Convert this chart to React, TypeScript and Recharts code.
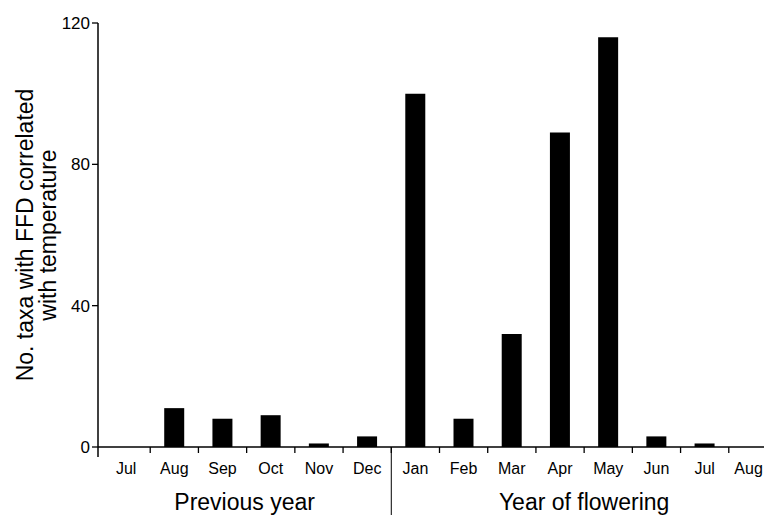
import React from "react";
import { BarChart, Bar, XAxis, YAxis } from "recharts";

const MONTHS = ["Jul", "Aug", "Sep", "Oct", "Nov", "Dec", "Jan", "Feb", "Mar", "Apr", "May", "Jun", "Jul", "Aug"];
const TAXA = [0, 11, 8, 9, 1, 3, 100, 8, 32, 89, 116, 3, 1, 0];
const Y_TICKS = [0, 40, 80, 120];
const GROUPS = ["Previous year", "Year of flowering"];
const PREV_COUNT = 6;
const Y_LABEL_LINES = ["No. taxa with FFD correlated", "with temperature"];

const data = MONTHS.map((m, i) => ({ key: `${m}-${i}`, month: m, value: TAXA[i] }));

const FONT = "'Liberation Sans', Arial, Helvetica, sans-serif";
const VIEW_W = 764;
const CHART_W = 777;
const CHART_H = 515;
const Y_AXIS_W = 98;
const PAD_LEFT = 4;
const X_AXIS_H = 68;
const TOP = 23;
const BAND = (CHART_W - Y_AXIS_W - PAD_LEFT) / MONTHS.length;
const TICK_FONT = 16;

const XTick = (props: any) => {
  const { x, y, index } = props;
  const half = BAND / 2;
  const right = x + half;
  const left = x - half;
  const els: React.ReactNode[] = [];
  els.push(<line key="t" x1={right} x2={right} y1={y} y2={y + 6} stroke="#000" strokeWidth={1.3} />);
  const approxHalfWidth = (MONTHS[index].length * TICK_FONT * 0.6) / 2;
  const lx = Math.min(x, VIEW_W - 1 - approxHalfWidth);
  els.push(
    <text key="l" x={lx} y={y + 27} textAnchor="middle" fontFamily={FONT} fontSize={TICK_FONT} fill="#000">
      {MONTHS[index]}
    </text>
  );
  if (index === 0) {
    const start = left - PAD_LEFT;
    const divider = left + PREV_COUNT * BAND;
    els.push(<line key="ya" x1={start} x2={start} y1={y} y2={y + 10} stroke="#000" strokeWidth={1.5} />);
    els.push(
      <text key="g0" x={(start + divider) / 2} y={y + 63} textAnchor="middle" fontFamily={FONT} fontSize={23} fill="#000">
        {GROUPS[0]}
      </text>
    );
  }
  if (index === PREV_COUNT) {
    const endX = left + (MONTHS.length - PREV_COUNT) * BAND;
    els.push(<line key="dv" x1={left} x2={left} y1={y} y2={y + 68} stroke="#000" strokeWidth={1} />);
    els.push(
      <text key="g1" x={(left + endX) / 2} y={y + 63} textAnchor="middle" fontFamily={FONT} fontSize={23} fill="#000">
        {GROUPS[1]}
      </text>
    );
  }
  return <g>{els}</g>;
};

const YLabel = (props: any) => {
  const vb = props.viewBox || { x: 0, y: TOP, width: Y_AXIS_W, height: 424 };
  const cy = vb.y + vb.height / 2;
  const xs = [33, 56];
  return (
    <g>
      {Y_LABEL_LINES.map((t, i) => (
        <text
          key={i}
          x={xs[i]}
          y={cy}
          transform={`rotate(-90, ${xs[i]}, ${cy})`}
          textAnchor="middle"
          fontFamily={FONT}
          fontSize={23}
          fill="#000"
        >
          {t}
        </text>
      ))}
    </g>
  );
};

export default function App() {
  return (
    <div style={{ position: "absolute", left: 0, top: 0, width: VIEW_W, height: 515, overflow: "hidden", background: "#fff" }}>
      <BarChart
        width={CHART_W}
        height={CHART_H}
        data={data}
        margin={{ top: TOP, right: 0, bottom: 0, left: 0 }}
        barSize={20}
      >
        <XAxis
          dataKey="key"
          height={X_AXIS_H}
          padding={{ left: PAD_LEFT, right: 0 }}
          axisLine={{ stroke: "#000", strokeWidth: 1.5 }}
          tickLine={false}
          tickSize={0}
          tickMargin={0}
          interval={0}
          tick={<XTick />}
        />
        <YAxis
          width={Y_AXIS_W}
          domain={[0, 120]}
          ticks={Y_TICKS}
          axisLine={{ stroke: "#000", strokeWidth: 1.5 }}
          tickLine={{ stroke: "#000", strokeWidth: 1.3 }}
          tickSize={6}
          tickMargin={2}
          tick={{ fontFamily: FONT, fontSize: 17, fill: "#000" }}
          label={{ content: (p: any) => <YLabel {...p} /> }}
        />
        <Bar dataKey="value" fill="#000" isAnimationActive={false} />
      </BarChart>
    </div>
  );
}
